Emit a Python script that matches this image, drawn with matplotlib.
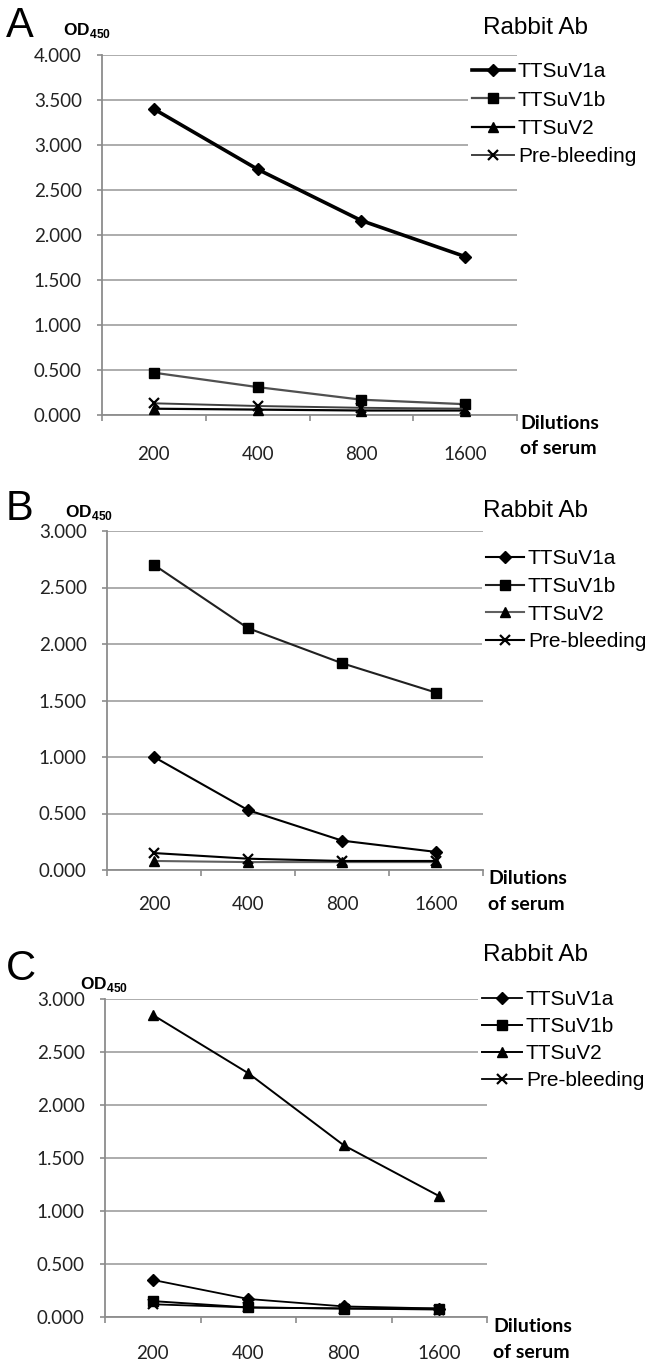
import matplotlib
matplotlib.use('Agg')
import matplotlib.pyplot as plt
import numpy as np

plt.rcParams['font.family'] = ['Liberation Sans', 'DejaVu Sans']
plt.rcParams['mathtext.fontset'] = 'custom'
plt.rcParams['mathtext.bf'] = 'Liberation Sans:bold'
plt.rcParams['mathtext.rm'] = 'Liberation Sans'

# data
dilutions = ['200', '400', '800', '1600']
series_names = ['TTSuV1a', 'TTSuV1b', 'TTSuV2', 'Pre-bleeding']

a_v1a = [3.40, 2.73, 2.16, 1.76]
a_v1b = [0.47, 0.31, 0.17, 0.12]
a_v2 = [0.07, 0.06, 0.05, 0.05]
a_pre = [0.13, 0.10, 0.08, 0.07]

b_v1a = [1.00, 0.53, 0.26, 0.16]
b_v1b = [2.70, 2.14, 1.83, 1.57]
b_v2 = [0.08, 0.07, 0.07, 0.07]
b_pre = [0.15, 0.10, 0.08, 0.08]

c_v1a = [0.35, 0.17, 0.10, 0.08]
c_v1b = [0.15, 0.09, 0.08, 0.08]
c_v2 = [2.85, 2.30, 1.62, 1.14]
c_pre = [0.12, 0.09, 0.08, 0.07]

W, H = 654, 1362
fig = plt.figure(figsize=(W / 100, H / 100), dpi=100)

markers = ['D', 's', '^', 'x']
msizes = [6, 7, 7.5, 7]
GRAY = '#a6a6a6'
AXC = '#8c8c8c'
TICKFONT = 'Lato'


def px_axes(left, right, top, bottom):
    return fig.add_axes([left / W, 1 - bottom / H, (right - left) / W, (bottom - top) / H])


def ftext(x, y, s, **kw):
    fig.text(x / W, 1 - y / H, s, **kw)


def panel(ax, data, ymax, colors, widths, leg_xy, leg_spacing, xpad, hlen):
    x = np.arange(1, 5)
    handles = []
    for vals, m, ms, c, lw in zip(data, markers, msizes, colors, widths):
        h, = ax.plot(x, vals, marker=m, ms=ms, color=c, lw=lw, mfc='black', mec='black',
                     mew=1.6 if m == 'x' else 1, clip_on=False, zorder=3)
        handles.append(h)
    ax.set_xlim(0.5, 4.5)
    ax.set_ylim(0, ymax)
    ax.set_yticks(np.arange(0, ymax + 0.01, 0.5))
    ax.set_yticklabels([f'{v:.3f}' for v in np.arange(0, ymax + 0.01, 0.5)],
                       fontfamily=TICKFONT, fontsize=13.5, color='#222222')
    ax.set_xticks([0.5, 1.5, 2.5, 3.5, 4.5])
    ax.set_xticklabels([])
    ax.set_xticks(x, minor=True)
    ax.set_xticklabels(dilutions, minor=True, fontfamily=TICKFONT, fontsize=13.5, color='#222222')
    ax.tick_params(axis='x', which='major', length=4.5, width=1.2, color=AXC, direction='out')
    ax.tick_params(axis='x', which='minor', length=0, pad=xpad)
    ax.tick_params(axis='y', length=3.6, width=1.2, color=AXC, direction='out', pad=11)
    ax.yaxis.grid(True, color=GRAY, lw=1.3)
    ax.set_axisbelow(True)
    for s in ['top', 'right']:
        ax.spines[s].set_visible(False)
    for s in ['left', 'bottom']:
        ax.spines[s].set_color(AXC)
        ax.spines[s].set_linewidth(1.3)
    leg = ax.legend(handles, series_names, loc='upper left',
                    bbox_to_anchor=(leg_xy[0] / W, 1 - leg_xy[1] / H),
                    bbox_transform=fig.transFigure, frameon=True, facecolor='white',
                    edgecolor='none', framealpha=1, fancybox=False, borderpad=0.2,
                    borderaxespad=0, fontsize=15, handlelength=hlen, handletextpad=0.2,
                    labelspacing=leg_spacing)
    leg.set_zorder(5)
    return ax


# Panel A
axA = px_axes(102, 517, 55, 415)
panel(axA, [a_v1a, a_v1b, a_v2, a_pre], 4.0,
      ['black', '#505050', 'black', '#404040'], [2.6, 1.6, 1.6, 1.4],
      (468, 58), 0.45, 22, 2.0)
# Panel B
axB = px_axes(107, 483, 531, 870)
panel(axB, [b_v1a, b_v1b, b_v2, b_pre], 3.0,
      ['black', '#202020', '#606060', 'black'], [1.5, 1.5, 1.5, 1.5],
      (482, 545), 0.42, 19, 1.8)
# Panel C
axC = px_axes(105, 487, 999, 1317)
panel(axC, [c_v1a, c_v1b, c_v2, c_pre], 3.0,
      ['black', 'black', 'black', 'black'], [1.3, 1.4, 1.4, 1.3],
      (478, 986), 0.38, 20, 1.9)

# panel letters, titles, axis labels
for letter, ly, ody, ry, odx in [('A', 26, 31, 28, 63), ('B', 509, 512, 511, 65), ('C', 969, 985, 955, 80)]:
    ftext(6, ly, letter, fontsize=30, ha='left', va='center')
    ftext(odx, ody, r'$\mathbf{OD}_{\mathbf{450}}$', fontsize=12.5, ha='left', va='center')
    ftext(483, ry, 'Rabbit Ab', fontsize=17.5, ha='left', va='center')

for dx, dy in [(520, 423), (488, 879), (493, 1327)]:
    ftext(dx, dy, 'Dilutions', fontsize=14, fontweight='bold', family=TICKFONT, ha='left', va='center')
    ftext(dx, dy + 26, 'of serum', fontsize=14, fontweight='bold', family=TICKFONT, ha='left', va='center')

plt.savefig('out.png', dpi=100)
